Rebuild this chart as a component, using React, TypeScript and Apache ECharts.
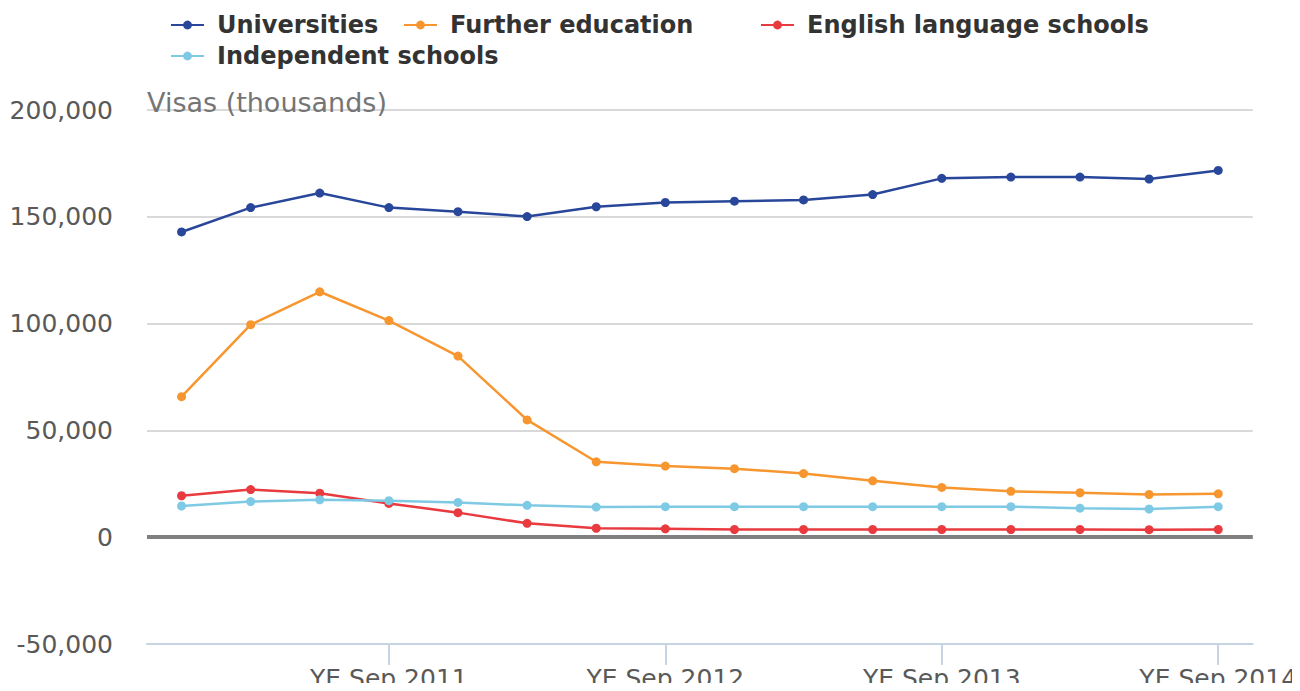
import React, { useEffect, useRef } from "react";
import * as echarts from "echarts";

const categories = [
  "YE Dec 2010", "YE Mar 2011", "YE Jun 2011", "YE Sep 2011",
  "YE Dec 2011", "YE Mar 2012", "YE Jun 2012", "YE Sep 2012",
  "YE Dec 2012", "YE Mar 2013", "YE Jun 2013", "YE Sep 2013",
  "YE Dec 2013", "YE Mar 2014", "YE Jun 2014", "YE Sep 2014",
];

const universities = [
  142900, 154300, 161100, 154300, 152400, 150100, 154700, 156700,
  157300, 157900, 160400, 168000, 168600, 168600, 167700, 171700,
];
const furtherEducation = [
  65800, 99500, 114900, 101400, 84800, 54900, 35300, 33300,
  32100, 29800, 26400, 23300, 21500, 20800, 20000, 20300,
];
const englishLanguageSchools = [
  19400, 22300, 20600, 15800, 11500, 6500, 4200, 3900,
  3600, 3600, 3600, 3600, 3600, 3600, 3500, 3600,
];
const independentSchools = [
  14600, 16700, 17500, 17100, 16300, 14900, 14100, 14300,
  14300, 14300, 14300, 14300, 14300, 13600, 13200, 14300,
];

const yTicks = { min: -50000, max: 200000, interval: 50000 };

const FONT = "DejaVu Sans";

export default function App() {
  const ref = useRef<HTMLDivElement>(null);
  useEffect(() => {
    if (!ref.current) return;
    const chart = echarts.init(ref.current, null, { renderer: "svg" });
    const showIdx = (i: number) => i % 4 === 3;
    const legendBase = {
      orient: "horizontal",
      itemWidth: 33,
      itemHeight: 11,
      padding: 0,
      selectedMode: false,
      textStyle: {
        fontFamily: FONT,
        fontSize: 24,
        fontWeight: "bold",
        color: "#333333",
        padding: [0, 0, 0, 8],
        lineHeight: 30,
      },
    };
    const mk = (name: string, data: number[], color: string, extra: any = {}) => ({
      name,
      type: "line",
      data,
      symbol: "circle",
      symbolSize: 9,
      lineStyle: { width: 2.5, color },
      itemStyle: { color },
      ...extra,
    });
    chart.setOption({
      animation: false,
      textStyle: { fontFamily: FONT },
      legend: [
        { ...legendBase, left: 170, top: 10, data: ["Universities"] },
        { ...legendBase, left: 403, top: 10, data: ["Further education"] },
        { ...legendBase, left: 760, top: 10, data: ["English language schools"] },
        { ...legendBase, left: 170, top: 41, data: ["Independent schools"] },
      ],
      grid: { left: 147, right: 45, top: 110, bottom: 43, containLabel: false },
      xAxis: {
        type: "category",
        data: categories,
        boundaryGap: true,
        axisLine: { onZero: false, lineStyle: { color: "#c7d4e4", width: 2 } },
        axisTick: {
          show: true,
          alignWithLabel: true,
          length: 21,
          lineStyle: { color: "#c7d4e4", width: 2 },
        },
        axisLabel: {
          show: true,
          interval: (i: number) => showIdx(i),
          fontFamily: FONT,
          fontSize: 25,
          color: "#595959",
          margin: 22,
        },
        splitLine: { show: false },
      },
      yAxis: {
        type: "value",
        min: yTicks.min,
        max: yTicks.max,
        interval: yTicks.interval,
        name: "Visas (thousands)",
        nameLocation: "end",
        nameGap: -6,
        nameTextStyle: {
          fontFamily: FONT,
          fontSize: 27,
          color: "#757575",
          align: "left",
          verticalAlign: "bottom",
        },
        axisLine: { show: false },
        axisTick: { show: false },
        axisLabel: {
          fontFamily: FONT,
          fontSize: 25,
          color: "#595959",
          margin: 34,
          formatter: (v: number) => v.toLocaleString("en-US"),
        },
        splitLine: { lineStyle: { color: "#d9d9d9", width: 2 } },
      },
      series: [
        mk("Universities", universities, "#28479a", {
          markLine: {
            silent: true,
            symbol: ["none", "none"],
            label: { show: false },
            lineStyle: { color: "#808080", width: 4, type: "solid" },
            data: [{ yAxis: 0 }],
          },
        }),
        mk("Further education", furtherEducation, "#f7962f"),
        mk("English language schools", englishLanguageSchools, "#e83a3f"),
        mk("Independent schools", independentSchools, "#7ecae5"),
      ],
    });
    return () => chart.dispose();
  }, []);
  return <div ref={ref} style={{ width: 1300, height: 691, margin: -8 }} />;
}
